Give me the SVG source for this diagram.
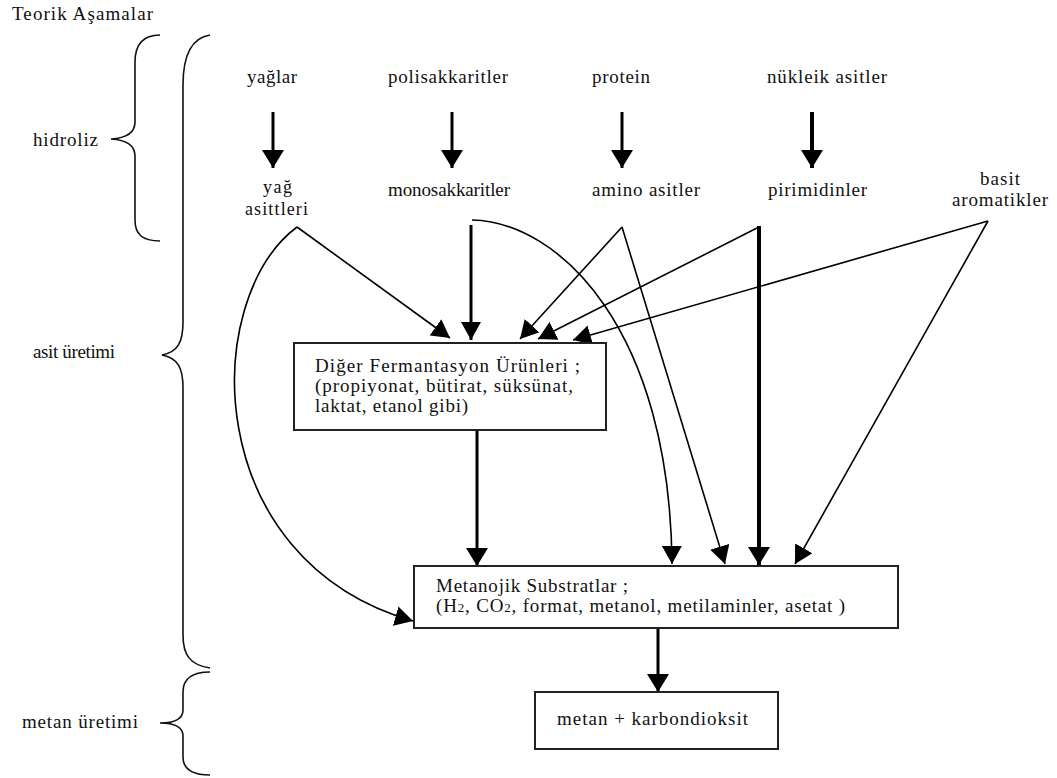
<svg xmlns="http://www.w3.org/2000/svg" width="1057" height="778" viewBox="0 0 1057 778" font-family="'Liberation Serif', 'DejaVu Serif', serif">
<defs>
<style>
text{font-family:'Liberation Serif','DejaVu Serif',serif;font-size:19px;fill:#111}
.box{fill:#fff;stroke:#222;stroke-width:2}
.brace{fill:none;stroke:#111;stroke-width:1.6}
.thin{fill:none;stroke:#000;stroke-width:1.6}
.thick{fill:none;stroke:#000;stroke-width:3}
.heavy{fill:none;stroke:#000;stroke-width:4}
</style>
<marker id="ah" markerUnits="userSpaceOnUse" markerWidth="20" markerHeight="20" refX="18" refY="10" orient="auto">
<path d="M0,0 L18,10 L0,20 z" fill="#000"/>
</marker>
<marker id="ahb" markerUnits="userSpaceOnUse" markerWidth="20" markerHeight="22" refX="18" refY="11" orient="auto">
<path d="M0,0 L18,11 L0,22 z" fill="#000"/>
</marker>
</defs>
<rect width="1057" height="778" fill="#fff"/>

<g id="title"><text x="12" y="20" textLength="141" lengthAdjust="spacing">Teorik Aşamalar</text></g>

<g id="stages">
<g id="stage-hidroliz">
<path class="brace" d="M160,35 C142,35 135,45 135,62 L135,122 C135,132 127,138 111,139 C127,140 135,146 135,156 L135,220 C135,234 142,241 160,241"/>
<text x="33" y="146" textLength="65" lengthAdjust="spacing">hidroliz</text>
</g>
<g id="stage-asit">
<path class="brace" d="M210,35 C191,38 183,55 183,85 L183,322 C183,342 178,352 162,355 C178,358 183,368 183,388 L183,635 C183,655 190,665 210,668"/>
<text x="33" y="358" textLength="82" lengthAdjust="spacing">asit üretimi</text>
</g>
<g id="stage-metan">
<path class="brace" d="M210,672 C192,672 183,678 183,692 L183,710 C183,718 176,723 160,723 C176,723 183,728 183,736 L183,757 C183,769 192,775 210,775"/>
<text x="22" y="728" textLength="116" lengthAdjust="spacing">metan üretimi</text>
</g>
</g>

<g id="connectors">
<line class="thick" x1="273" y1="112" x2="273" y2="168" marker-end="url(#ahb)"/>
<line class="thick" x1="452" y1="112" x2="452" y2="168" marker-end="url(#ahb)"/>
<line class="thick" x1="622" y1="112" x2="622" y2="168" marker-end="url(#ahb)"/>
<line class="heavy" x1="812" y1="112" x2="812" y2="168" marker-end="url(#ahb)"/>

<line class="thin" x1="297" y1="227" x2="450" y2="338" marker-end="url(#ah)"/>
<path class="thin" d="M297,227 C200,300 200,560 413,621" marker-end="url(#ah)"/>
<line class="thick" x1="471" y1="225" x2="471" y2="340" marker-end="url(#ah)"/>
<path class="thin" d="M472,220 C560,222 670,330 672,564" marker-end="url(#ah)"/>
<line class="thin" x1="622" y1="227" x2="520" y2="339" marker-end="url(#ah)"/>
<line class="thin" x1="622" y1="227" x2="725" y2="564" marker-end="url(#ah)"/>
<line class="heavy" x1="759" y1="226" x2="759" y2="565" marker-end="url(#ahb)"/>
<line class="thin" x1="759" y1="227" x2="538" y2="339" marker-end="url(#ah)"/>
<line class="thin" x1="988" y1="221" x2="573" y2="340" marker-end="url(#ah)"/>
<line class="thin" x1="988" y1="221" x2="795" y2="564" marker-end="url(#ah)"/>
<line class="thick" x1="477" y1="430" x2="477" y2="566" marker-end="url(#ahb)"/>
<line class="thick" x1="658" y1="628" x2="658" y2="692" marker-end="url(#ahb)"/>
</g>

<g id="n-yaglar"><text x="247" y="83" textLength="50" lengthAdjust="spacing">yağlar</text></g>
<g id="n-polisakkaritler"><text x="388" y="83" textLength="120" lengthAdjust="spacing">polisakkaritler</text></g>
<g id="n-protein"><text x="592" y="83" textLength="58" lengthAdjust="spacing">protein</text></g>
<g id="n-nukleik"><text x="767" y="83" textLength="120" lengthAdjust="spacing">nükleik asitler</text></g>

<g id="n-yag-asitleri">
<text x="263" y="193" textLength="29" lengthAdjust="spacing" style="font-size:18px">yağ</text>
<text x="245" y="215" textLength="63" lengthAdjust="spacing" style="font-size:18px">asittleri</text>
</g>
<g id="n-monosakkaritler"><text x="388" y="196" textLength="122" lengthAdjust="spacing">monosakkaritler</text></g>
<g id="n-amino"><text x="592" y="196" textLength="108" lengthAdjust="spacing">amino asitler</text></g>
<g id="n-pirimidinler"><text x="768" y="196" textLength="99" lengthAdjust="spacing">pirimidinler</text></g>
<g id="n-aromatikler">
<text x="980" y="185" textLength="40" lengthAdjust="spacing">basit</text>
<text x="952" y="206" textLength="96" lengthAdjust="spacing">aromatikler</text>
</g>

<g id="n-fermantasyon">
<rect class="box" x="294" y="343" width="312" height="87"/>
<text x="315" y="372" textLength="265" lengthAdjust="spacing">Diğer Fermantasyon Ürünleri ;</text>
<text x="315" y="392" textLength="258" lengthAdjust="spacing">(propiyonat, bütirat, süksünat,</text>
<text x="315" y="412" textLength="153" lengthAdjust="spacing">laktat, etanol gibi)</text>
</g>

<g id="n-metanojik">
<rect class="box" x="414" y="566" width="484" height="62"/>
<text x="436" y="592" textLength="192" lengthAdjust="spacing">Metanojik Substratlar ;</text>
<text x="436" y="612" textLength="409" lengthAdjust="spacing">(H<tspan font-size="13">2</tspan>, CO<tspan font-size="13">2</tspan>, format, metanol, metilaminler, asetat )</text>
</g>

<g id="n-metan">
<rect class="box" x="535" y="692" width="243" height="57"/>
<text x="557" y="725" textLength="191" lengthAdjust="spacing">metan + karbondioksit</text>
</g>
</svg>
